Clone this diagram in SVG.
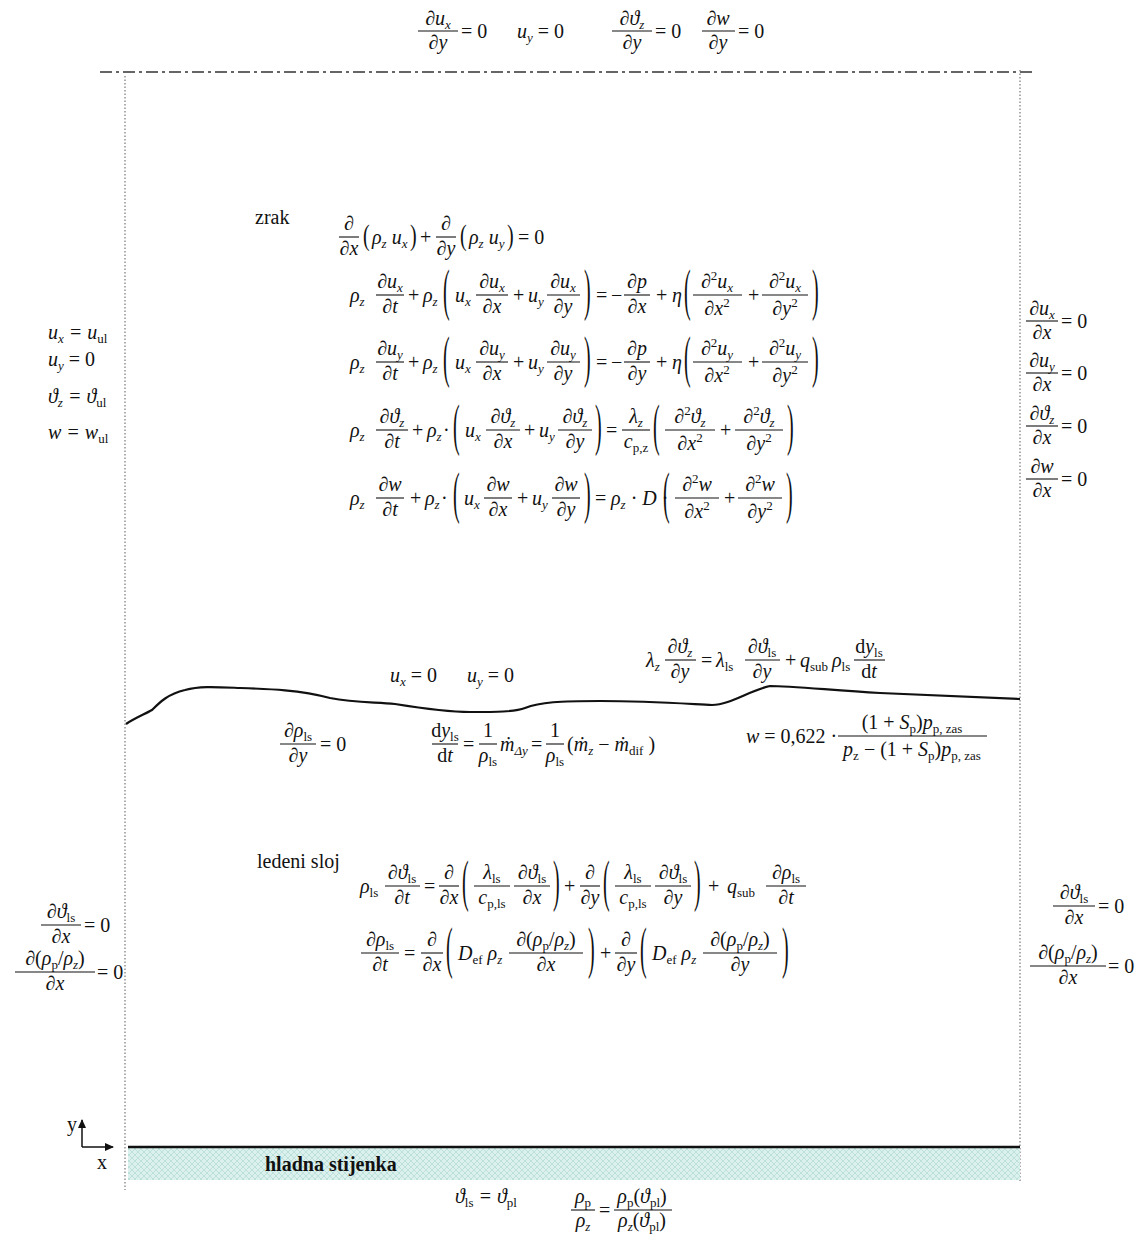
<svg xmlns="http://www.w3.org/2000/svg" xmlns:xlink="http://www.w3.org/1999/xlink" width="1139" height="1234" viewBox="0 0 1139 1234">
<style>
.t{font-family:"Liberation Serif","DejaVu Serif",serif;font-size:20px;fill:#111}
.i{font-style:italic}
.u{font-style:normal}
.s{font-size:13px}
.c{text-anchor:middle}
.bd{font-weight:bold}
.b{stroke:#111;stroke-width:1.1;fill:none}
.dot{stroke:#777;stroke-width:1.2;stroke-dasharray:1.5 2;fill:none}
</style>
<defs>
<text id="pL" x="0" y="5" transform="scale(1,2.8)" font-family="Liberation Serif, DejaVu Serif, serif" font-size="20" fill="#111">(</text>
<text id="qL" x="0" y="5" transform="scale(1,2.8)" font-family="Liberation Serif, DejaVu Serif, serif" font-size="20" fill="#111">)</text>
<text id="pS" x="0" y="5" transform="scale(1,1.5)" font-family="Liberation Serif, DejaVu Serif, serif" font-size="20" fill="#111">(</text>
<text id="qS" x="0" y="5" transform="scale(1,1.5)" font-family="Liberation Serif, DejaVu Serif, serif" font-size="20" fill="#111">)</text>
<pattern id="hatch" width="6" height="6" patternUnits="userSpaceOnUse">
<rect width="6" height="6" fill="#dcf0ed"/>
<path d="M0,6 L6,0 M0,0 L6,6" stroke="#b4ddd7" stroke-width="0.8"/>
</pattern>
<marker id="arr" markerWidth="10" markerHeight="10" refX="8" refY="5" orient="auto" markerUnits="userSpaceOnUse">
<path d="M0,1 L9,5 L0,9 Z" fill="#111"/>
</marker>
</defs>

<rect width="1139" height="1234" fill="#fff"/>

<g id="domain">
<line x1="100" y1="72" x2="1035" y2="72" stroke="#333" stroke-width="1.5" stroke-dasharray="12 4 3 4"/>
<line class="dot" x1="125" y1="76" x2="125" y2="1190"/>
<line class="dot" x1="1020" y1="70" x2="1020" y2="1182"/>
<rect x="128" y="1148" width="892" height="32" fill="url(#hatch)"/>
<line x1="128" y1="1147" x2="1020" y2="1147" stroke="#111" stroke-width="2.5"/>
<path d="M126,724 C135,718 145,714 152,710 C160,702 168,694 185,690 C200,686 215,687 240,688 C270,689 300,690 330,698 C355,703 375,702 395,704 C420,708 445,712 470,712 C495,712 515,712 525,708 C540,702 560,701 600,701 C650,701 690,704 712,705 C730,705 750,690 770,686 C790,686 830,690 880,693 C930,695 980,697 1020,699" fill="none" stroke="#111" stroke-width="2.2"/>
</g>

<g id="axes">
<line x1="82" y1="1147" x2="82" y2="1120" stroke="#111" stroke-width="1.5" marker-end="url(#arr)"/>
<line x1="82" y1="1147" x2="113" y2="1147" stroke="#111" stroke-width="1.5" marker-end="url(#arr)"/>
<text class="t" x="67" y="1131" font-size="17">y</text>
<text class="t" x="97" y="1169" font-size="17">x</text>
</g>

<g id="bc-top">
<text class="t i c" x="438" y="25">∂u<tspan class="s" dy="4">x</tspan></text>
<line class="b" x1="418" y1="31" x2="458" y2="31"/>
<text class="t i c" x="438" y="49">∂y</text>
<text class="t" x="461" y="38">= 0</text>
<text class="t i" x="517" y="38">u<tspan class="s" dy="4">y</tspan><tspan class="u" dy="-4"> = 0</tspan></text>
<text class="t i c" x="632" y="25">∂ϑ<tspan class="s" dy="4">z</tspan></text>
<line class="b" x1="612" y1="31" x2="652" y2="31"/>
<text class="t i c" x="632" y="49">∂y</text>
<text class="t" x="655" y="38">= 0</text>
<text class="t i c" x="718" y="25">∂w</text>
<line class="b" x1="702" y1="31" x2="735" y2="31"/>
<text class="t i c" x="718" y="49">∂y</text>
<text class="t" x="738" y="38">= 0</text>
</g>

<g id="bc-left-air">
<text class="t i" x="48" y="339">u<tspan class="s" dy="4">x</tspan><tspan dy="-4"> = u</tspan><tspan class="s u" dy="4">ul</tspan></text>
<text class="t i" x="48" y="366">u<tspan class="s" dy="4">y</tspan><tspan class="u" dy="-4"> = 0</tspan></text>
<text class="t i" x="48" y="403">ϑ<tspan class="s" dy="4">z</tspan><tspan dy="-4"> = ϑ</tspan><tspan class="s u" dy="4">ul</tspan></text>
<text class="t i" x="48" y="439">w = w<tspan class="s u" dy="4">ul</tspan></text>
</g>

<g id="bc-right-air">
<text class="t i c" x="1042" y="315">∂u<tspan class="s" dy="4">x</tspan></text>
<line class="b" x1="1026" y1="321" x2="1058" y2="321"/>
<text class="t i c" x="1042" y="339">∂x</text>
<text class="t" x="1061" y="328">= 0</text>
<text class="t i c" x="1042" y="367">∂u<tspan class="s" dy="4">y</tspan></text>
<line class="b" x1="1026" y1="373" x2="1058" y2="373"/>
<text class="t i c" x="1042" y="391">∂x</text>
<text class="t" x="1061" y="380">= 0</text>
<text class="t i c" x="1042" y="420">∂ϑ<tspan class="s" dy="4">z</tspan></text>
<line class="b" x1="1026" y1="426" x2="1058" y2="426"/>
<text class="t i c" x="1042" y="444">∂x</text>
<text class="t" x="1061" y="433">= 0</text>
<text class="t i c" x="1042" y="473">∂w</text>
<line class="b" x1="1026" y1="479" x2="1058" y2="479"/>
<text class="t i c" x="1042" y="497">∂x</text>
<text class="t" x="1061" y="486">= 0</text>
</g>

<g id="air-equations">
<text class="t" x="255" y="224">zrak</text>
<!-- continuity -->
<text class="t i c" x="349" y="230">∂</text>
<line class="b" x1="339" y1="237" x2="359" y2="237"/>
<text class="t i c" x="349" y="255">∂x</text>
<use xlink:href="#pS" x="363" y="237"/>
<text class="t i" x="372" y="244">ρ<tspan class="s" dy="4">z</tspan><tspan dy="-4"> u</tspan><tspan class="s" dy="4">x</tspan></text>
<use xlink:href="#qS" x="410" y="237"/>
<text class="t" x="420" y="244">+</text>
<text class="t i c" x="446" y="230">∂</text>
<line class="b" x1="436" y1="237" x2="456" y2="237"/>
<text class="t i c" x="446" y="255">∂y</text>
<use xlink:href="#pS" x="460" y="237"/>
<text class="t i" x="469" y="244">ρ<tspan class="s" dy="4">z</tspan><tspan dy="-4"> u</tspan><tspan class="s" dy="4">y</tspan></text>
<use xlink:href="#qS" x="507" y="237"/>
<text class="t" x="518" y="244">= 0</text>

<!-- momentum x -->
<text class="t i" x="350" y="302">ρ<tspan class="s" dy="4">z</tspan></text>
<text class="t i c" x="390" y="288">∂u<tspan class="s" dy="4">x</tspan></text>
<line class="b" x1="376" y1="295" x2="404" y2="295"/>
<text class="t i c" x="390" y="313">∂t</text>
<text class="t" x="408" y="302">+</text>
<text class="t i" x="423" y="302">ρ<tspan class="s" dy="4">z</tspan></text>
<use xlink:href="#pL" x="443" y="295"/>
<text class="t i" x="455" y="302">u<tspan class="s" dy="4">x</tspan></text>
<text class="t i c" x="492" y="288">∂u<tspan class="s" dy="4">x</tspan></text>
<line class="b" x1="476" y1="295" x2="508" y2="295"/>
<text class="t i c" x="492" y="313">∂x</text>
<text class="t" x="513" y="302">+</text>
<text class="t i" x="528" y="302">u<tspan class="s" dy="4">y</tspan></text>
<text class="t i c" x="563" y="288">∂u<tspan class="s" dy="4">x</tspan></text>
<line class="b" x1="547" y1="295" x2="580" y2="295"/>
<text class="t i c" x="563" y="313">∂y</text>
<use xlink:href="#qL" x="584" y="295"/>
<text class="t" x="596" y="302">=</text>
<text class="t" x="611" y="302">−</text>
<text class="t i c" x="637" y="288">∂p</text>
<line class="b" x1="624" y1="295" x2="650" y2="295"/>
<text class="t i c" x="637" y="313">∂x</text>
<text class="t" x="656" y="302">+</text>
<text class="t i" x="672" y="302">η</text>
<use xlink:href="#pL" x="684" y="295"/>
<text class="t i c" x="717" y="288">∂<tspan class="s u" dy="-8">2</tspan><tspan dy="8">u</tspan><tspan class="s" dy="4">x</tspan></text>
<line class="b" x1="693" y1="295" x2="742" y2="295"/>
<text class="t i c" x="717" y="315">∂x<tspan class="s u" dy="-8">2</tspan></text>
<text class="t" x="748" y="302">+</text>
<text class="t i c" x="785" y="288">∂<tspan class="s u" dy="-8">2</tspan><tspan dy="8">u</tspan><tspan class="s" dy="4">x</tspan></text>
<line class="b" x1="762" y1="295" x2="808" y2="295"/>
<text class="t i c" x="785" y="315">∂y<tspan class="s u" dy="-8">2</tspan></text>
<use xlink:href="#qL" x="812" y="295"/>

<!-- momentum y -->
<text class="t i" x="350" y="369">ρ<tspan class="s" dy="4">z</tspan></text>
<text class="t i c" x="390" y="355">∂u<tspan class="s" dy="4">y</tspan></text>
<line class="b" x1="376" y1="362" x2="404" y2="362"/>
<text class="t i c" x="390" y="380">∂t</text>
<text class="t" x="408" y="369">+</text>
<text class="t i" x="423" y="369">ρ<tspan class="s" dy="4">z</tspan></text>
<use xlink:href="#pL" x="443" y="362"/>
<text class="t i" x="455" y="369">u<tspan class="s" dy="4">x</tspan></text>
<text class="t i c" x="492" y="355">∂u<tspan class="s" dy="4">y</tspan></text>
<line class="b" x1="476" y1="362" x2="508" y2="362"/>
<text class="t i c" x="492" y="380">∂x</text>
<text class="t" x="513" y="369">+</text>
<text class="t i" x="528" y="369">u<tspan class="s" dy="4">y</tspan></text>
<text class="t i c" x="563" y="355">∂u<tspan class="s" dy="4">y</tspan></text>
<line class="b" x1="547" y1="362" x2="580" y2="362"/>
<text class="t i c" x="563" y="380">∂y</text>
<use xlink:href="#qL" x="584" y="362"/>
<text class="t" x="596" y="369">=</text>
<text class="t" x="611" y="369">−</text>
<text class="t i c" x="637" y="355">∂p</text>
<line class="b" x1="624" y1="362" x2="650" y2="362"/>
<text class="t i c" x="637" y="380">∂y</text>
<text class="t" x="656" y="369">+</text>
<text class="t i" x="672" y="369">η</text>
<use xlink:href="#pL" x="684" y="362"/>
<text class="t i c" x="717" y="355">∂<tspan class="s u" dy="-8">2</tspan><tspan dy="8">u</tspan><tspan class="s" dy="4">y</tspan></text>
<line class="b" x1="693" y1="362" x2="742" y2="362"/>
<text class="t i c" x="717" y="382">∂x<tspan class="s u" dy="-8">2</tspan></text>
<text class="t" x="748" y="369">+</text>
<text class="t i c" x="785" y="355">∂<tspan class="s u" dy="-8">2</tspan><tspan dy="8">u</tspan><tspan class="s" dy="4">y</tspan></text>
<line class="b" x1="762" y1="362" x2="808" y2="362"/>
<text class="t i c" x="785" y="382">∂y<tspan class="s u" dy="-8">2</tspan></text>
<use xlink:href="#qL" x="812" y="362"/>

<!-- energy -->
<text class="t i" x="350" y="437">ρ<tspan class="s" dy="4">z</tspan></text>
<text class="t i c" x="392" y="423">∂ϑ<tspan class="s" dy="4">z</tspan></text>
<line class="b" x1="376" y1="430" x2="408" y2="430"/>
<text class="t i c" x="392" y="448">∂t</text>
<text class="t" x="412" y="437">+</text>
<text class="t i" x="427" y="437">ρ<tspan class="s" dy="4">z</tspan></text>
<text class="t" x="443" y="437">·</text>
<use xlink:href="#pL" x="453" y="430"/>
<text class="t i" x="465" y="437">u<tspan class="s" dy="4">x</tspan></text>
<text class="t i c" x="503" y="423">∂ϑ<tspan class="s" dy="4">z</tspan></text>
<line class="b" x1="486" y1="430" x2="520" y2="430"/>
<text class="t i c" x="503" y="448">∂x</text>
<text class="t" x="524" y="437">+</text>
<text class="t i" x="539" y="437">u<tspan class="s" dy="4">y</tspan></text>
<text class="t i c" x="575" y="423">∂ϑ<tspan class="s" dy="4">z</tspan></text>
<line class="b" x1="558" y1="430" x2="592" y2="430"/>
<text class="t i c" x="575" y="448">∂y</text>
<use xlink:href="#qL" x="595" y="430"/>
<text class="t" x="606" y="437">=</text>
<text class="t i c" x="636" y="423">λ<tspan class="s" dy="4">z</tspan></text>
<line class="b" x1="622" y1="430" x2="650" y2="430"/>
<text class="t i c" x="636" y="448">c<tspan class="s u" dy="4">p,z</tspan></text>
<use xlink:href="#pL" x="653" y="430"/>
<text class="t i c" x="690" y="423">∂<tspan class="s u" dy="-8">2</tspan><tspan dy="8">ϑ</tspan><tspan class="s" dy="4">z</tspan></text>
<line class="b" x1="665" y1="430" x2="715" y2="430"/>
<text class="t i c" x="690" y="450">∂x<tspan class="s u" dy="-8">2</tspan></text>
<text class="t" x="720" y="437">+</text>
<text class="t i c" x="759" y="423">∂<tspan class="s u" dy="-8">2</tspan><tspan dy="8">ϑ</tspan><tspan class="s" dy="4">z</tspan></text>
<line class="b" x1="735" y1="430" x2="783" y2="430"/>
<text class="t i c" x="759" y="450">∂y<tspan class="s u" dy="-8">2</tspan></text>
<use xlink:href="#qL" x="787" y="430"/>

<!-- moisture -->
<text class="t i" x="350" y="505">ρ<tspan class="s" dy="4">z</tspan></text>
<text class="t i c" x="390" y="491">∂w</text>
<line class="b" x1="376" y1="498" x2="404" y2="498"/>
<text class="t i c" x="390" y="516">∂t</text>
<text class="t" x="410" y="505">+</text>
<text class="t i" x="425" y="505">ρ<tspan class="s" dy="4">z</tspan></text>
<text class="t" x="441" y="505">·</text>
<use xlink:href="#pL" x="453" y="498"/>
<text class="t i" x="464" y="505">u<tspan class="s" dy="4">x</tspan></text>
<text class="t i c" x="498" y="491">∂w</text>
<line class="b" x1="484" y1="498" x2="512" y2="498"/>
<text class="t i c" x="498" y="516">∂x</text>
<text class="t" x="517" y="505">+</text>
<text class="t i" x="532" y="505">u<tspan class="s" dy="4">y</tspan></text>
<text class="t i c" x="566" y="491">∂w</text>
<line class="b" x1="552" y1="498" x2="580" y2="498"/>
<text class="t i c" x="566" y="516">∂y</text>
<use xlink:href="#qL" x="584" y="498"/>
<text class="t" x="595" y="505">=</text>
<text class="t i" x="611" y="505">ρ<tspan class="s" dy="4">z</tspan><tspan class="u" dy="-4"> · </tspan>D<tspan class="u"> ·</tspan></text>
<use xlink:href="#pL" x="663" y="498"/>
<text class="t i c" x="697" y="491">∂<tspan class="s u" dy="-8">2</tspan><tspan dy="8">w</tspan></text>
<line class="b" x1="675" y1="498" x2="719" y2="498"/>
<text class="t i c" x="697" y="518">∂x<tspan class="s u" dy="-8">2</tspan></text>
<text class="t" x="724" y="505">+</text>
<text class="t i c" x="760" y="491">∂<tspan class="s u" dy="-8">2</tspan><tspan dy="8">w</tspan></text>
<line class="b" x1="738" y1="498" x2="782" y2="498"/>
<text class="t i c" x="760" y="518">∂y<tspan class="s u" dy="-8">2</tspan></text>
<use xlink:href="#qL" x="786" y="498"/>
</g>

<g id="interface">
<text class="t i" x="390" y="682">u<tspan class="s" dy="4">x</tspan><tspan class="u" dy="-4"> = 0</tspan></text>
<text class="t i" x="467" y="682">u<tspan class="s" dy="4">y</tspan><tspan class="u" dy="-4"> = 0</tspan></text>

<text class="t i" x="646" y="667">λ<tspan class="s" dy="4">z</tspan></text>
<text class="t i c" x="680" y="653">∂ϑ<tspan class="s" dy="4">z</tspan></text>
<line class="b" x1="665" y1="660" x2="696" y2="660"/>
<text class="t i c" x="680" y="678">∂y</text>
<text class="t" x="701" y="667">=</text>
<text class="t i" x="716" y="667">λ<tspan class="s u" dy="4">ls</tspan></text>
<text class="t i c" x="762" y="653">∂ϑ<tspan class="s u" dy="4">ls</tspan></text>
<line class="b" x1="745" y1="660" x2="780" y2="660"/>
<text class="t i c" x="762" y="678">∂y</text>
<text class="t" x="785" y="667">+</text>
<text class="t i" x="800" y="667">q<tspan class="s u" dy="4">sub</tspan></text>
<text class="t i" x="832" y="667">ρ<tspan class="s u" dy="4">ls</tspan></text>
<text class="t c" x="869" y="653">d<tspan class="i">y</tspan><tspan class="s" dy="4">ls</tspan></text>
<line class="b" x1="854" y1="660" x2="885" y2="660"/>
<text class="t c" x="869" y="678">d<tspan class="i">t</tspan></text>

<text class="t i c" x="298" y="737">∂ρ<tspan class="s u" dy="4">ls</tspan></text>
<line class="b" x1="280" y1="744" x2="316" y2="744"/>
<text class="t i c" x="298" y="762">∂y</text>
<text class="t" x="320" y="751">= 0</text>

<text class="t c" x="445" y="737">d<tspan class="i">y</tspan><tspan class="s" dy="4">ls</tspan></text>
<line class="b" x1="432" y1="744" x2="458" y2="744"/>
<text class="t c" x="445" y="762">d<tspan class="i">t</tspan></text>
<text class="t" x="463" y="751">=</text>
<text class="t c" x="488" y="737">1</text>
<line class="b" x1="479" y1="744" x2="497" y2="744"/>
<text class="t i c" x="488" y="762">ρ<tspan class="s u" dy="4">ls</tspan></text>
<text class="t i" x="500" y="751">ṁ<tspan class="s" dy="4">Δy</tspan></text>
<text class="t" x="531" y="751">=</text>
<text class="t c" x="555" y="737">1</text>
<line class="b" x1="546" y1="744" x2="564" y2="744"/>
<text class="t i c" x="555" y="762">ρ<tspan class="s u" dy="4">ls</tspan></text>
<text class="t i" x="567" y="751"><tspan class="u">(</tspan>ṁ<tspan class="s" dy="4">z</tspan><tspan class="u" dy="-4"> − </tspan>ṁ<tspan class="s u" dy="4">dif</tspan><tspan class="u" dy="-4"> )</tspan></text>

<text class="t i" x="746" y="743">w<tspan class="u"> = 0,622 ·</tspan></text>
<text class="t c" x="912" y="729">(1 + <tspan class="i">S</tspan><tspan class="s" dy="4">p</tspan><tspan dy="-4">)</tspan><tspan class="i">p</tspan><tspan class="s" dy="4">p, zas</tspan></text>
<line class="b" x1="838" y1="736" x2="987" y2="736"/>
<text class="t c" x="912" y="756"><tspan class="i">p</tspan><tspan class="s" dy="4">z</tspan><tspan dy="-4"> − (1 + </tspan><tspan class="i">S</tspan><tspan class="s" dy="4">p</tspan><tspan dy="-4">)</tspan><tspan class="i">p</tspan><tspan class="s" dy="4">p, zas</tspan></text>
</g>

<g id="ice-equations">
<text class="t" x="257" y="868">ledeni sloj</text>
<!-- eq1 -->
<text class="t i" x="360" y="893">ρ<tspan class="s u" dy="4">ls</tspan></text>
<text class="t i c" x="402" y="879">∂ϑ<tspan class="s u" dy="4">ls</tspan></text>
<line class="b" x1="385" y1="886" x2="420" y2="886"/>
<text class="t i c" x="402" y="904">∂t</text>
<text class="t" x="424" y="893">=</text>
<text class="t i c" x="449" y="879">∂</text>
<line class="b" x1="439" y1="886" x2="459" y2="886"/>
<text class="t i c" x="449" y="904">∂x</text>
<use xlink:href="#pL" x="462" y="886"/>
<text class="t i c" x="492" y="879">λ<tspan class="s u" dy="4">ls</tspan></text>
<line class="b" x1="474" y1="886" x2="510" y2="886"/>
<text class="t i c" x="492" y="904">c<tspan class="s u" dy="4">p,ls</tspan></text>
<text class="t i c" x="532" y="879">∂ϑ<tspan class="s u" dy="4">ls</tspan></text>
<line class="b" x1="514" y1="886" x2="550" y2="886"/>
<text class="t i c" x="532" y="904">∂x</text>
<use xlink:href="#qL" x="553" y="886"/>
<text class="t" x="564" y="893">+</text>
<text class="t i c" x="590" y="879">∂</text>
<line class="b" x1="580" y1="886" x2="600" y2="886"/>
<text class="t i c" x="590" y="904">∂y</text>
<use xlink:href="#pL" x="603" y="886"/>
<text class="t i c" x="633" y="879">λ<tspan class="s u" dy="4">ls</tspan></text>
<line class="b" x1="615" y1="886" x2="651" y2="886"/>
<text class="t i c" x="633" y="904">c<tspan class="s u" dy="4">p,ls</tspan></text>
<text class="t i c" x="673" y="879">∂ϑ<tspan class="s u" dy="4">ls</tspan></text>
<line class="b" x1="655" y1="886" x2="691" y2="886"/>
<text class="t i c" x="673" y="904">∂y</text>
<use xlink:href="#qL" x="694" y="886"/>
<text class="t" x="708" y="893">+</text>
<text class="t i" x="727" y="893">q<tspan class="s u" dy="4">sub</tspan></text>
<text class="t i c" x="786" y="879">∂ρ<tspan class="s u" dy="4">ls</tspan></text>
<line class="b" x1="766" y1="886" x2="806" y2="886"/>
<text class="t i c" x="786" y="904">∂t</text>
<!-- eq2 -->
<text class="t i c" x="380" y="946">∂ρ<tspan class="s u" dy="4">ls</tspan></text>
<line class="b" x1="361" y1="953" x2="399" y2="953"/>
<text class="t i c" x="380" y="971">∂t</text>
<text class="t" x="404" y="960">=</text>
<text class="t i c" x="432" y="946">∂</text>
<line class="b" x1="421" y1="953" x2="443" y2="953"/>
<text class="t i c" x="432" y="971">∂x</text>
<use xlink:href="#pL" x="446" y="953"/>
<text class="t i" x="458" y="960">D<tspan class="s u" dy="4">ef</tspan><tspan dy="-4"> ρ</tspan><tspan class="s" dy="4">z</tspan></text>
<text class="t i c" x="546" y="946">∂<tspan class="u">(</tspan>ρ<tspan class="s u" dy="4">p</tspan><tspan class="u" dy="-4">/</tspan>ρ<tspan class="s" dy="4">z</tspan><tspan class="u" dy="-4">)</tspan></text>
<line class="b" x1="509" y1="953" x2="583" y2="953"/>
<text class="t i c" x="546" y="971">∂x</text>
<use xlink:href="#qL" x="588" y="953"/>
<text class="t" x="600" y="960">+</text>
<text class="t i c" x="626" y="946">∂</text>
<line class="b" x1="615" y1="953" x2="637" y2="953"/>
<text class="t i c" x="626" y="971">∂y</text>
<use xlink:href="#pL" x="640" y="953"/>
<text class="t i" x="652" y="960">D<tspan class="s u" dy="4">ef</tspan><tspan dy="-4"> ρ</tspan><tspan class="s" dy="4">z</tspan></text>
<text class="t i c" x="740" y="946">∂<tspan class="u">(</tspan>ρ<tspan class="s u" dy="4">p</tspan><tspan class="u" dy="-4">/</tspan>ρ<tspan class="s" dy="4">z</tspan><tspan class="u" dy="-4">)</tspan></text>
<line class="b" x1="703" y1="953" x2="777" y2="953"/>
<text class="t i c" x="740" y="971">∂y</text>
<use xlink:href="#qL" x="782" y="953"/>
</g>

<g id="bc-left-ice">
<text class="t i c" x="61" y="918">∂ϑ<tspan class="s u" dy="4">ls</tspan></text>
<line class="b" x1="41" y1="925" x2="81" y2="925"/>
<text class="t i c" x="61" y="943">∂x</text>
<text class="t" x="84" y="932">= 0</text>
<text class="t i c" x="55" y="965">∂<tspan class="u">(</tspan>ρ<tspan class="s u" dy="4">p</tspan><tspan class="u" dy="-4">/</tspan>ρ<tspan class="s" dy="4">z</tspan><tspan class="u" dy="-4">)</tspan></text>
<line class="b" x1="15" y1="972" x2="95" y2="972"/>
<text class="t i c" x="55" y="990">∂x</text>
<text class="t" x="97" y="979">= 0</text>
</g>

<g id="bc-right-ice">
<text class="t i c" x="1074" y="899">∂ϑ<tspan class="s u" dy="4">ls</tspan></text>
<line class="b" x1="1053" y1="906" x2="1095" y2="906"/>
<text class="t i c" x="1074" y="924">∂x</text>
<text class="t" x="1098" y="913">= 0</text>
<text class="t i c" x="1068" y="959">∂<tspan class="u">(</tspan>ρ<tspan class="s u" dy="4">p</tspan><tspan class="u" dy="-4">/</tspan>ρ<tspan class="s" dy="4">z</tspan><tspan class="u" dy="-4">)</tspan></text>
<line class="b" x1="1030" y1="966" x2="1106" y2="966"/>
<text class="t i c" x="1068" y="984">∂x</text>
<text class="t" x="1108" y="973">= 0</text>
</g>

<g id="wall">
<text class="t bd" x="265" y="1171">hladna stijenka</text>
<text class="t i" x="455" y="1203">ϑ<tspan class="s u" dy="4">ls</tspan><tspan dy="-4"> = ϑ</tspan><tspan class="s u" dy="4">pl</tspan></text>
<text class="t i c" x="583" y="1203">ρ<tspan class="s u" dy="4">p</tspan></text>
<line class="b" x1="571" y1="1210" x2="595" y2="1210"/>
<text class="t i c" x="583" y="1227">ρ<tspan class="s" dy="4">z</tspan></text>
<text class="t" x="599" y="1217">=</text>
<text class="t i c" x="642" y="1203">ρ<tspan class="s u" dy="4">p</tspan><tspan class="u" dy="-4">(</tspan>ϑ<tspan class="s u" dy="4">pl</tspan><tspan class="u" dy="-4">)</tspan></text>
<line class="b" x1="614" y1="1210" x2="672" y2="1210"/>
<text class="t i c" x="642" y="1227">ρ<tspan class="s" dy="4">z</tspan><tspan class="u" dy="-4">(</tspan>ϑ<tspan class="s u" dy="4">pl</tspan><tspan class="u" dy="-4">)</tspan></text>
</g>
</svg>
